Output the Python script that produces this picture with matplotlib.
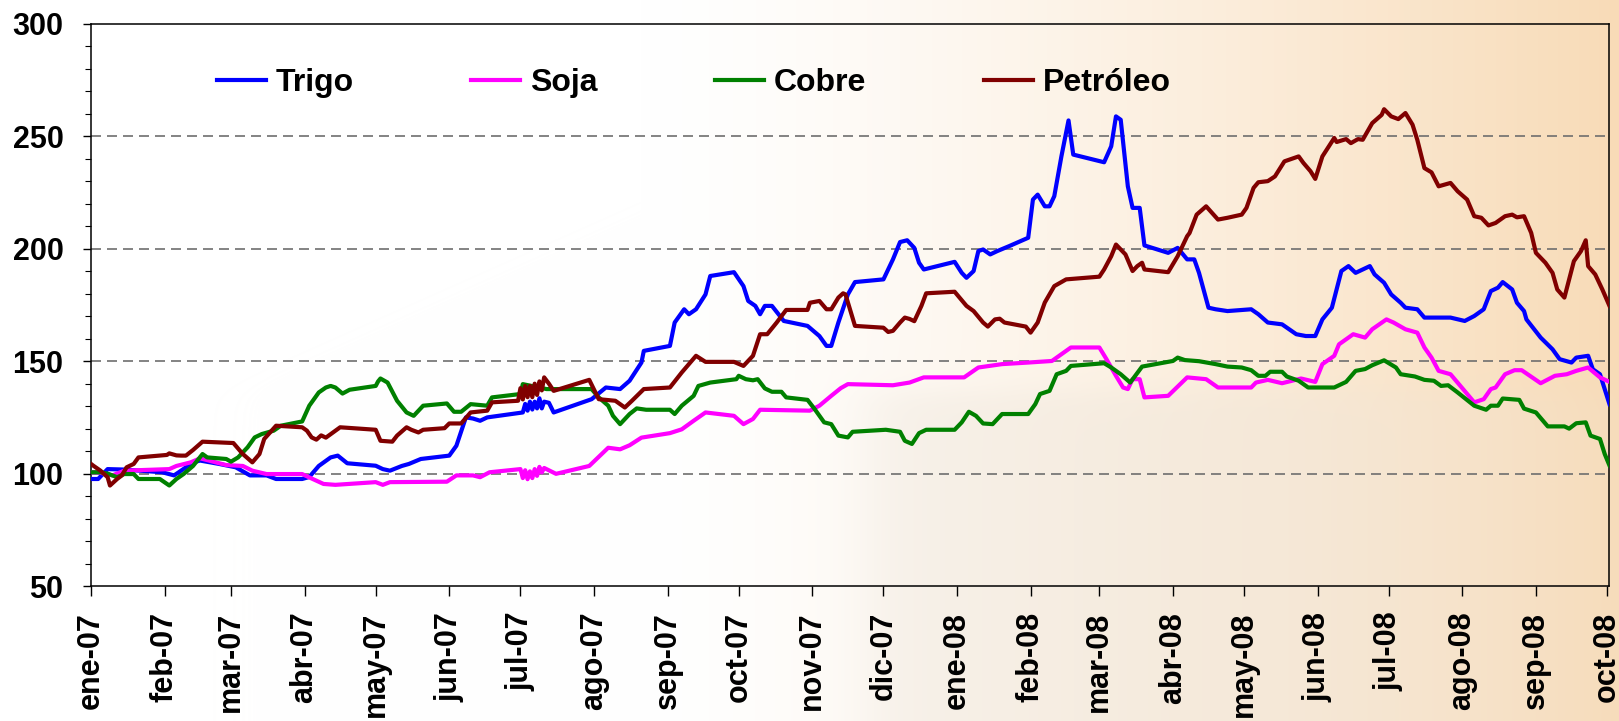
import numpy as np
import matplotlib
matplotlib.use("Agg")
import matplotlib.pyplot as plt
import matplotlib.dates as mdates
from matplotlib.ticker import MultipleLocator, FixedLocator
import pandas as pd

# ---------------- data (days since 2007-01-01, index values) ----------------
trigo_days = [0,3,7,14,30,35,37,43,46,54,61,67,74,78,89,92,96,101,104,108,120,123,126,131,134,139,151,154,158,161,164,167,182,183,184,185,186,187,188,189,190,191,193,195,211,217,223,227,232,233,244,246,250,252,255,259,261,271,275,277,280,282,284,287,292,302,307,310,312,315,319,322,334,338,341,344,347,349,351,364,367,369,372,374,376,379,382,387,395,397,399,402,404,406,409,412,414,427,430,432,434,437,439,442,444,454,458,462,465,467,471,474,479,489,492,496,502,508,512,516,519,523,527,530,533,539,541,545,548,552,554,559,562,573,579,583,587,590,593,595,599,601,604,605,611,616,619,624,626,631,633,636,640]
trigo_vals = [97.6,97.6,102,101.8,100.6,99.2,100.6,105,105.8,104.3,102.8,99.2,99.2,97.6,97.6,98.5,103.4,107.2,108,104.6,103.5,102,101.3,103.4,104.3,106.5,108,112.4,125,124.5,123.5,125,127.2,131,128,132,128.5,132,129,133.5,129,132,131.5,127.2,133.1,138.3,137.6,141.3,149.4,154.6,156.8,167.2,173.1,170.9,173.1,179.7,187.9,189.6,183.4,176.8,174.6,170.9,174.6,174.6,167.9,165.7,161.2,156.8,156.8,167.2,179.7,185.2,186.4,195.3,203,203.8,200.4,193.8,190.8,194.2,189.3,187.1,190.1,199,199.7,197.5,199,201.2,204.9,221.9,224.1,218.9,218.9,223.4,241.1,257.1,241.9,238.5,245.6,258.9,257.4,227.8,218.2,218.2,201.5,198.2,200.4,195.3,195.3,189.3,173.8,173.1,172.3,173.1,170.9,167.2,166.4,162,161.2,161.2,168.6,173.8,190.1,192.3,189.3,192.3,188.6,184.9,179.7,176,173.8,173.1,169.4,169.4,167.9,170.1,173.1,181.2,182.7,185.2,181.9,176,172.3,168.6,160.5,155.3,150.9,149.4,151.6,152.4,146.4,144.2,130.9]

soja_days = [0,3,9,14,33,36,42,46,57,64,68,74,89,92,98,103,120,123,126,150,154,161,164,168,181,182,183,184,185,186,187,188,189,190,191,196,210,218,223,227,232,244,249,254,259,271,275,279,282,303,307,312,316,319,338,345,351,368,374,384,395,405,413,425,428,432,435,437,439,442,444,454,462,470,475,489,491,496,502,510,516,519,524,526,532,537,540,546,549,554,559,562,565,568,573,583,587,590,592,596,600,603,611,617,622,626,631,636,640]
soja_vals = [100.6,100.6,99.2,101.3,102,103.4,105,106.8,103.8,103.4,101.3,99.8,99.8,98.3,95.4,95,96.2,95,96.2,96.4,99.2,99.2,98.4,100.6,102,98,101.5,97.5,101,98,102,99,103,100.5,102.5,99.9,103.4,111.5,110.8,112.6,116,118,119.7,123.5,127.2,125.7,122,124.3,128.4,128,130.2,134.6,138,139.8,139.3,140.5,142.8,142.8,147.2,148.7,149.4,150.1,156.1,156.1,150.9,143.5,138.3,137.6,142,142,133.9,134.6,142.8,142,138.3,138.3,140.5,141.7,140.2,142.3,140.8,148.7,152.4,157.5,162,160.5,164.2,168.6,167.2,164.2,162.7,156.1,151.6,145.7,144.2,131.7,133.1,137.6,138.3,144.2,146,146,140.2,143.5,144.2,145.7,147.2,142.8,140.8]

cobre_days = [0,4,7,11,14,18,20,29,33,36,39,43,47,49,57,59,62,66,69,72,77,80,89,92,96,99,101,103,106,109,120,121,122,125,129,133,136,140,150,153,156,160,167,169,181,182,192,211,214,218,220,223,227,230,234,244,246,249,254,256,261,272,273,276,279,281,284,287,291,293,302,305,309,312,315,319,321,335,341,343,346,349,352,364,367,370,373,376,380,384,395,398,400,404,407,411,413,427,430,434,438,443,456,458,461,467,474,479,485,489,492,495,497,502,504,509,513,524,529,533,537,540,545,550,552,558,562,566,569,572,576,583,588,590,593,595,602,604,609,614,621,623,626,630,632,636,638,640]
cobre_vals = [100.6,100.6,100,98.4,99.8,99.8,97.6,97.6,94.7,97.6,99.8,103.4,108.7,107.2,106.5,105.3,107.2,111.7,116.1,117.6,119.1,121.3,123.2,130.2,136.1,138.3,139,138.3,135.6,137.3,139,141,142.3,140.5,132.4,127.2,125.7,130.2,131.2,127.5,127.5,130.9,130.2,133.9,135.4,139.8,137.6,137.6,133.9,130.2,125.7,122,126.5,129,128.4,128.4,126.5,130.2,134.6,139,140.5,142,143.5,142,141.5,142,137.9,136.4,136.4,133.9,132.8,128.7,122.8,122,116.9,116.1,118.6,119.5,118.6,114.6,113.2,118,119.5,119.5,122.8,127.5,125.7,122.3,122,126.5,126.5,130.9,135.4,136.8,144.2,145.7,147.9,149.1,147.2,144.2,140.5,147.6,150.1,151.6,150.5,150,148.7,147.6,147.2,146,143.5,143.5,145.3,145.3,143.2,141.3,138.3,138.3,140.8,145.7,146.5,148.2,150.4,147.2,144.2,143.2,141.7,141.3,139,139.3,136.1,130.2,128.4,130.2,130.2,133.4,132.8,128.9,127.2,121,121,120,122.4,122.8,116.9,115.4,108.7,103.6]

petroleo_days = [0,1,4,7,8,11,13,15,18,20,32,33,36,38,40,43,47,60,64,68,71,73,78,89,91,93,95,97,99,102,105,120,122,127,129,133,135,138,140,149,151,156,160,167,169,180,181,182,183,184,185,186,187,188,189,190,191,193,195,210,214,221,225,228,233,244,249,255,259,271,275,279,282,285,289,293,302,303,307,310,312,315,317,318,322,334,336,338,341,343,345,347,350,352,364,369,372,376,378,381,383,385,394,396,399,402,406,411,425,427,430,432,436,439,441,443,444,454,458,462,463,466,470,475,479,485,487,490,492,496,499,503,509,511,514,516,519,524,525,529,531,534,536,540,544,545,548,551,554,557,559,562,565,568,573,576,580,583,586,589,592,596,599,601,604,607,609,613,616,618,621,625,628,630,631,634,637,640]
petroleo_vals = [104.3,103.5,101.3,98.4,94.7,97.6,99.2,102.8,104.3,107.2,108.3,109,108.1,108,108,110.5,114.2,113.6,108.7,105,108.7,115.4,121.3,120.6,119.1,116.1,115.1,117,116,118.3,120.6,119.5,114.6,114.2,116.9,120.6,119.5,118.3,119.5,120.2,122.3,122.3,127.2,128,131.7,132.4,138,133,139,134,139,134,140,135,141,137,142.8,140,136.8,141.7,133.1,132.4,129.4,132.4,137.6,138.3,145,152.4,149.7,149.7,147.9,152.4,162,162,167.2,172.8,172.8,176,176.8,173.1,173.1,178.3,180.2,179.7,165.7,164.9,163,163.5,167.2,169.4,168.8,167.8,174.6,180.2,180.9,174.6,172.3,167.2,165.4,168.6,168.9,167.2,165.4,162.7,167.2,176.1,183.4,186.4,187.6,190.8,196.7,201.9,197.5,190.1,192.3,193.8,190.8,189.6,196.7,205.6,207,215.2,218.9,213,213.8,215.2,218.2,227.1,229.6,230.1,232.2,238.9,241.1,238.2,234.5,231.1,241.1,249.3,247.5,248.8,247,248.8,248.5,255.9,259.6,262.1,258.9,257.7,260.4,255.2,248.5,235.9,234,227.8,229.3,225.6,221.9,214.5,213.8,210.4,211.5,214.5,215.2,214,214.5,207.1,198.2,193.8,189.3,181.9,178.3,194.5,199,203.8,192.3,188.6,181.9,174.6]

series_names = ["Trigo", "Soja", "Cobre", "Petróleo"]
series_colors = ["#0000FF", "#FF00FF", "#008000", "#800000"]
month_labels = ["ene-07","feb-07","mar-07","abr-07","may-07","jun-07","jul-07","ago-07",
                "sep-07","oct-07","nov-07","dic-07","ene-08","feb-08","mar-08","abr-08",
                "may-08","jun-08","jul-08","ago-08","sep-08","oct-08"]
y_ticks = [50, 100, 150, 200, 250, 300]

# ---------------- figure ----------------
W, H = 1619, 721
fig = plt.figure(figsize=(W / 100, H / 100), dpi=100)

# background gradient (white -> peach, faded object lower right)
xx, yy = np.meshgrid(np.arange(W), np.arange(H))
t = np.clip((xx - 640) / (W - 640), 0, 1) ** 1.35
white = np.array([255, 255, 255], float)
peach = np.array([248, 219, 183], float)
bg = (1 - t)[..., None] * white + t[..., None] * peach
sig = lambda z: 1 / (1 + np.exp(-z))
mask = sig((xx - 870) / 18) * sig((yy - 392) / 8) * (1 - 0.7 * np.clip((xx - 1250) / 369, 0, 1))
gray = np.array([236, 228, 217], float)
a = 0.4 * mask
bg = bg * (1 - a[..., None]) + gray * a[..., None]
bgax = fig.add_axes([0, 0, 1, 1], zorder=0)
bgax.imshow(bg.astype(np.uint8), aspect="auto", extent=[0, 1, 0, 1], interpolation="bilinear")
bgax.axis("off")

ax = fig.add_axes([91 / W, (H - 586) / H, 1518 / W, 562 / H], zorder=1)
ax.set_facecolor("none")

base = mdates.date2num(np.datetime64("2007-01-01"))
all_days = [trigo_days, soja_days, cobre_days, petroleo_days]
all_vals = [trigo_vals, soja_vals, cobre_vals, petroleo_vals]
lines = []
for d, v, name, c in zip(all_days, all_vals, series_names, series_colors):
    ln, = ax.plot(base + np.array(d, float), v, color=c, lw=3.0, label=name,
                  solid_joinstyle="round", zorder=3)
    lines.append(ln)

ax.set_xlim(base, mdates.date2num(np.datetime64("2008-10-01")) + 0.8)
ax.set_ylim(50, 300)

month_starts = pd.date_range("2007-01-01", "2008-10-01", freq="MS")
ax.xaxis.set_major_locator(FixedLocator(mdates.date2num(month_starts.to_pydatetime())))
ax.set_xticklabels(month_labels, rotation=90, fontsize=22, fontweight="bold",
                   family="Liberation Sans")
ax.set_yticks(y_ticks)
ax.set_yticklabels([str(v) for v in y_ticks], fontsize=22, fontweight="bold",
                   family="Liberation Sans")
ax.yaxis.set_minor_locator(MultipleLocator(10))

ax.tick_params(axis="x", direction="out", length=7.5, width=1, pad=11, colors="black")
ax.tick_params(axis="y", which="major", direction="out", length=5.8, width=1, pad=14)
ax.tick_params(axis="y", which="minor", direction="out", length=4.3, width=0.8)

for s in ax.spines.values():
    s.set_color("black")
    s.set_linewidth(1.1)

for gv in y_ticks[1:-1]:
    ax.axhline(gv, color="#6e6e6e", lw=1.2, linestyle=(0, (6, 3.6)), zorder=2)

leg = fig.legend(handles=lines, labels=series_names, loc="center left",
                 bbox_to_anchor=(217 / W, 1 - 83 / H), ncol=4, frameon=False,
                 handlelength=1.53, handletextpad=0.3, columnspacing=3.69,
                 borderpad=0, borderaxespad=0,
                 prop={"family": "Liberation Sans", "weight": "bold", "size": 23})

fig.savefig("out.png", dpi=100)
